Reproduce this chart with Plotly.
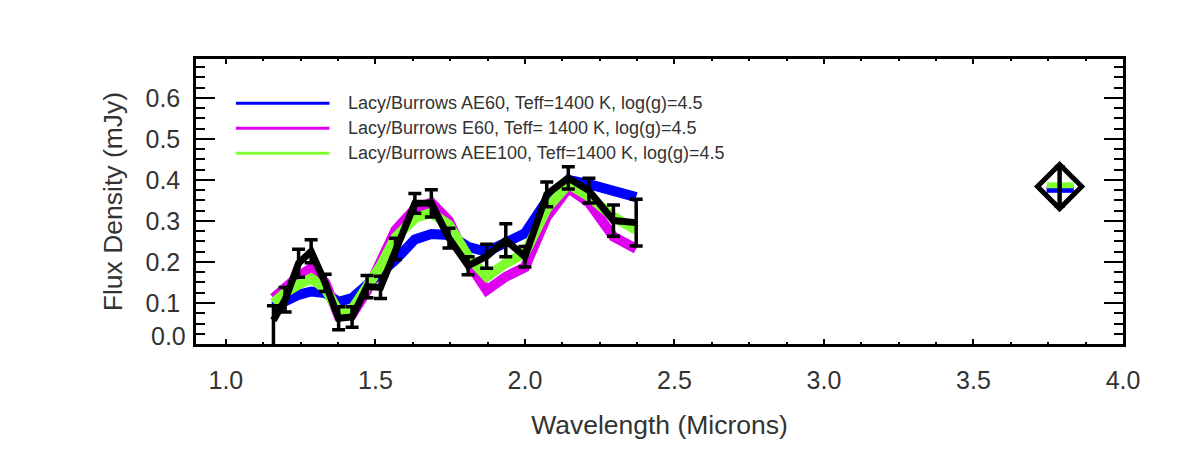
import plotly.graph_objects as go

# photometry points (microns, mJy)
wave = [1.159, 1.198, 1.243, 1.285, 1.332, 1.377, 1.422, 1.472, 1.517, 1.567, 1.632,
        1.687, 1.746, 1.810, 1.872, 1.936, 2.000, 2.073, 2.145, 2.214, 2.296, 2.372]
flux = [0.058, 0.108, 0.197, 0.226, 0.149, 0.063, 0.066, 0.140, 0.138, 0.232, 0.343,
        0.343, 0.258, 0.191, 0.214, 0.253, 0.213, 0.365, 0.405, 0.374, 0.301, 0.296]
err_up = [0.035, 0.030, 0.034, 0.028, 0.021, 0.028, 0.025, 0.027, 0.027, 0.026, 0.024,
          0.033, 0.024, 0.022, 0.029, 0.040, 0.025, 0.030, 0.027, 0.030, 0.038, 0.057]
err_dn = [0.070] + err_up[1:]

# models
ae60 = [0.090, 0.105, 0.120, 0.128, 0.124, 0.103, 0.112, 0.144, 0.170, 0.205, 0.255,
        0.268, 0.266, 0.237, 0.225, 0.250, 0.270, 0.350, 0.400, 0.390, 0.371, 0.358]
e60 = [0.112, 0.140, 0.165, 0.185, 0.150, 0.068, 0.072, 0.130, 0.195, 0.278, 0.330,
       0.345, 0.300, 0.200, 0.131, 0.164, 0.187, 0.310, 0.380, 0.345, 0.262, 0.232]
aee100 = [0.100, 0.125, 0.145, 0.160, 0.135, 0.080, 0.085, 0.135, 0.190, 0.260, 0.307,
          0.320, 0.290, 0.213, 0.164, 0.197, 0.222, 0.330, 0.390, 0.360, 0.310, 0.278]

# L' band point
lp_wave = [3.788]
lp_flux = [0.384]
lp_err = [0.047]
lp_band = [3.745, 3.835]
lp_ae60 = 0.376
lp_e60 = 0.380
lp_aee100 = 0.387

names = ["Lacy/Burrows AE60, Teff=1400 K, log(g)=4.5",
         "Lacy/Burrows E60, Teff= 1400 K, log(g)=4.5",
         "Lacy/Burrows AEE100, Teff=1400 K, log(g)=4.5"]
colors = ["#0000ff", "#e000f0", "#80ff30"]

fig = go.Figure()

for vals, c in zip([ae60, e60, aee100], colors):
    fig.add_trace(go.Scatter(x=wave, y=vals, mode="lines",
                             line=dict(color=c, width=10)))

# model fluxes over L' (magenta sits underneath)
for lp, c in [(lp_e60, colors[1]), (lp_ae60, colors[0]), (lp_aee100, colors[2])]:
    fig.add_trace(go.Scatter(x=lp_band, y=[lp, lp], mode="lines",
                             line=dict(color=c, width=6)))

fig.add_trace(go.Scatter(
    x=wave, y=flux, mode="lines",
    line=dict(color="black", width=7),
    error_y=dict(type="data", symmetric=False, array=err_up, arrayminus=err_dn,
                 color="black", thickness=3.5, width=6.5)))

fig.add_trace(go.Scatter(
    x=lp_wave, y=lp_flux, mode="markers",
    marker=dict(symbol="diamond-open", size=34, color="black",
                line=dict(color="black", width=5)),
    error_y=dict(type="data", array=lp_err, color="black", thickness=4.5, width=5)))

# legend drawn by hand (long line samples)
for i, (n, c) in enumerate(zip(names, colors)):
    ypos = 0.845 - i * 0.088
    fig.add_shape(type="line", xref="paper", yref="paper",
                  x0=0.043, x1=0.144, y0=ypos, y1=ypos,
                  line=dict(color=c, width=3))
    fig.add_annotation(xref="paper", yref="paper", x=0.162, y=ypos,
                       text=n, showarrow=False, xanchor="left", yanchor="middle",
                       font=dict(size=18, color="#333333"))

tick_font = dict(family="Liberation Sans, Arial, sans-serif", size=25, color="#333333")
title_font = dict(family="Liberation Sans, Arial, sans-serif", size=26.5, color="#333333")

# bottom label sits a little above the axis
fig.add_annotation(xref="paper", yref="y", x=0, y=0, text="0.0", showarrow=False,
                   xanchor="right", yanchor="middle", xshift=-8, yshift=8,
                   font=tick_font)

fig.update_layout(
    width=1179, height=470,
    margin=dict(l=188, r=64, t=51, b=134),
    paper_bgcolor="white", plot_bgcolor="white",
    showlegend=False,
    font=dict(family="Liberation Sans, Arial, sans-serif", color="#333333"),
)
fig.update_xaxes(
    range=[0.9, 4.0], tickvals=[1.0, 1.5, 2.0, 2.5, 3.0, 3.5, 4.0],
    ticktext=["1.0", "1.5", "2.0", "2.5", "3.0", "3.5", "4.0"],
    ticks="inside", ticklen=5, tickwidth=2, tickcolor="black",
    minor=dict(dtick=0.125, tick0=1.0, ticks="inside", ticklen=2, tickwidth=2,
               tickcolor="black"),
    showline=True, linecolor="black", linewidth=2.5, mirror="allticks",
    showgrid=False, zeroline=False, tickfont=tick_font, ticklabelstandoff=12,
    automargin=False,
    title=dict(text="Wavelength (Microns)", font=title_font, standoff=23),
)
fig.update_yaxes(
    range=[0, 0.695], tickvals=[0.1, 0.2, 0.3, 0.4, 0.5, 0.6],
    ticktext=["0.1", "0.2", "0.3", "0.4", "0.5", "0.6"],
    ticks="inside", ticklen=19, tickwidth=2, tickcolor="black",
    minor=dict(dtick=0.025, tick0=0, ticks="inside", ticklen=9, tickwidth=2,
               tickcolor="black"),
    showline=True, linecolor="black", linewidth=2.5, mirror="allticks",
    showgrid=False, zeroline=False, tickfont=tick_font, ticklabelstandoff=8,
    automargin=False,
    title=dict(text="Flux Density (mJy)", font=title_font, standoff=16),
)

fig.write_html("out.html")
